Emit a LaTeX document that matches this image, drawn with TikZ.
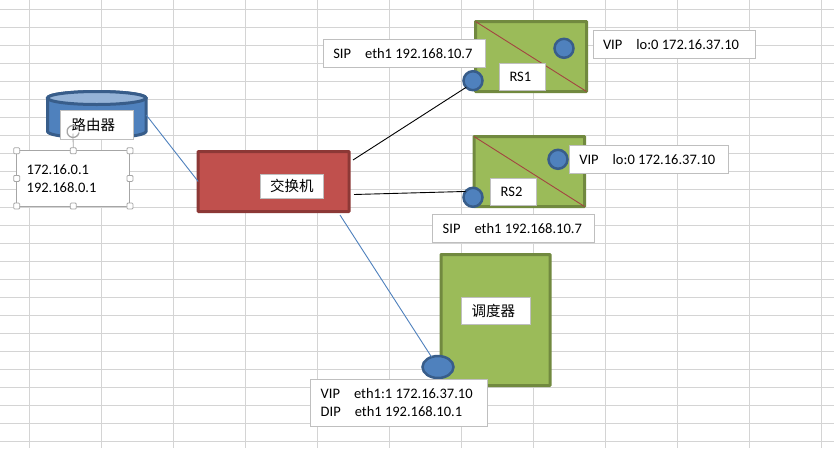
\documentclass[tikz,border=0pt]{standalone}
\usepackage{fontspec}
\setmainfont{Carlito}
\newfontfamily\cjk{Noto Sans CJK SC}
\definecolor{gridgrey}{HTML}{D4D4D4}
\definecolor{boxedge}{HTML}{BFBFBF}
\definecolor{bluefill}{HTML}{4F81BD}
\definecolor{blueedge}{HTML}{385D8A}
\definecolor{bluelight}{HTML}{95B3D7}
\definecolor{redfill}{HTML}{C0504D}
\definecolor{rededge}{HTML}{8C3836}
\definecolor{greenfill}{HTML}{9BBB59}
\definecolor{greenedge}{HTML}{71893F}
\definecolor{handleedge}{HTML}{A6A6A6}
\tikzset{
  x=1pt, y=-1pt,
  every node/.style={inner sep=0pt, outer sep=0pt, font=\fontsize{14.5}{18}\selectfont, text=black},
  hostbox/.style={draw=greenedge, fill=greenfill, line width=3pt, rounded corners=0.6pt},
  switchbox/.style={draw=rededge, fill=redfill, line width=3pt, rounded corners=0.6pt},
  port/.style={draw=blueedge, fill=bluefill, line width=2.5pt, circle, minimum size=19pt},
  portwide/.style={draw=blueedge, fill=bluefill, line width=2.5pt, ellipse, minimum width=31pt, minimum height=22pt},
  labelbox/.style={draw=boxedge, fill=white, line width=0.9pt, align=flush left, inner xsep=10pt, text width=#1-20pt},
  bluelink/.style={draw=bluefill, line width=0.9pt},
  blacklink/.style={draw=black, line width=0.9pt},
  splitline/.style={draw=redfill!85!black, line width=0.9pt},
  handle/.style={draw=handleedge, fill=white, line width=0.8pt, rounded corners=1pt, minimum size=6pt},
  cylinder edge/.style={draw=blueedge, line width=3pt},
}
\usetikzlibrary{shapes.geometric}
\begin{document}
\begin{tikzpicture}
  \useasboundingbox (0,0) rectangle (834,448);
  \fill[white] (0,0) rectangle (834,448);

  % worksheet grid
  \foreach \gx in {29.5,101.5,173.5,245.5,317.5,389.5,461.5,533.5,605.5,677.5,749.5,821.5}
    \draw[gridgrey, line width=1pt] (\gx,0) -- (\gx,448);
  \foreach \gy in {9.5,27.5,...,441.5}
    \draw[gridgrey, line width=1pt] (0,\gy) -- (834,\gy);

  % router drum
  \path[fill=bluefill, cylinder edge]
    (47.5,98) -- (47.5,131.5) arc[start angle=180, end angle=360, x radius=49.25, y radius=-6.5]
    -- (146,98) arc[start angle=0, end angle=180, x radius=49.25, y radius=-6.5] -- cycle;
  \path[fill=bluelight, cylinder edge] (96.75,98) ellipse[x radius=49.25, y radius=6.5];
  \node[minimum width=99pt, minimum height=48pt] (router) at (96.75,115) {};

  % switch and hosts
  \node[switchbox, minimum width=151pt, minimum height=60pt] (switch) at (273.7,181.5) {};
  \node[hostbox, minimum width=111pt, minimum height=70pt] (rsone) at (531,56.5) {};
  \node[hostbox, minimum width=110.5pt, minimum height=70pt] (rstwo) at (529.25,171.5) {};
  \node[hostbox, minimum width=109pt, minimum height=131pt] (sched) at (495.5,320) {};
  \draw[splitline] (rsone.north west) -- (rsone.south east);
  \draw[splitline] (rstwo.north west) -- (rstwo.south east);

  % network interfaces
  \node[port] (rsoneeth) at (473,80.7) {};
  \node[port] (rsonelo) at (564,48.3) {};
  \node[port] (rstwoeth) at (473,197.3) {};
  \node[port] (rstwolo) at (558,159.3) {};
  \node[portwide] (schedeth) at (438,367) {};

  % links
  \coordinate (swuplink) at (353,160);
  \coordinate (swmidlink) at (354,194.5);
  \coordinate (swdownlink) at (340,215);
  \draw[bluelink] (router.east) -- (switch.west);
  \draw[blacklink] (swuplink) -- (rsoneeth.224);
  \draw[blacklink] (swmidlink) -- (rstwoeth.142);
  \draw[bluelink] (swdownlink) -- (schedeth);

  % device labels
  \node[labelbox=73pt, inner xsep=11.5pt, text width=50pt, minimum height=29pt] (routerlabel) at (96.7,124.5) {\cjk 路由器};
  \node[labelbox=63pt, minimum height=24pt] (switchlabel) at (291.5,186) {\cjk 交换机};
  \node[labelbox=46pt, minimum height=27pt] (rsonelabel) at (522.5,76.8) {RS1};
  \node[labelbox=46pt, minimum height=27pt] (rstwolabel) at (513.7,191.8) {RS2};
  \node[labelbox=68.6pt, minimum height=27pt] (schedlabel) at (496,310.8) {\cjk 调度器};

  % address labels
  \node[labelbox=162.4pt, minimum height=28pt] (rsonesip) at (404.5,53.3) {SIP\hspace{14pt}eth1 192.168.10.7};
  \node[labelbox=162pt, minimum height=28pt] (rsonevip) at (674,44.3) {VIP\hspace{14pt}lo:0 172.16.37.10};
  \node[labelbox=159pt, minimum height=28pt] (rstwovip) at (648.8,159.3) {VIP\hspace{14pt}lo:0 172.16.37.10};
  \node[labelbox=161.6pt, minimum height=28pt] (rstwosip) at (513.5,228.3) {SIP\hspace{14pt}eth1 192.168.10.7};
  \node[labelbox=176.6pt, minimum height=46.7pt] (schedaddr) at (399,402.7) {VIP\hspace{14pt}eth1:1 172.16.37.10\\DIP\hspace{14pt}eth1 192.168.10.1};

  % selected text box with its handles
  \node[labelbox=113.3pt, draw=handleedge, line width=1pt, minimum height=55.3pt] (addr) at (73.3,178.4) {172.16.0.1\\192.168.0.1};
  \coordinate (rotpoint) at (73,133.5);
  \draw[handleedge, line width=0.8pt] (addr.north) -- (rotpoint);
  \draw[handleedge, line width=1.3pt] (rotpoint) ++(6,-1) arc[start angle=10, end angle=340, radius=6];
  \foreach \side in {north west,north,north east,west,east,south west,south,south east}
    \node[handle] at (addr.\side) {};
\end{tikzpicture}
\end{document}
